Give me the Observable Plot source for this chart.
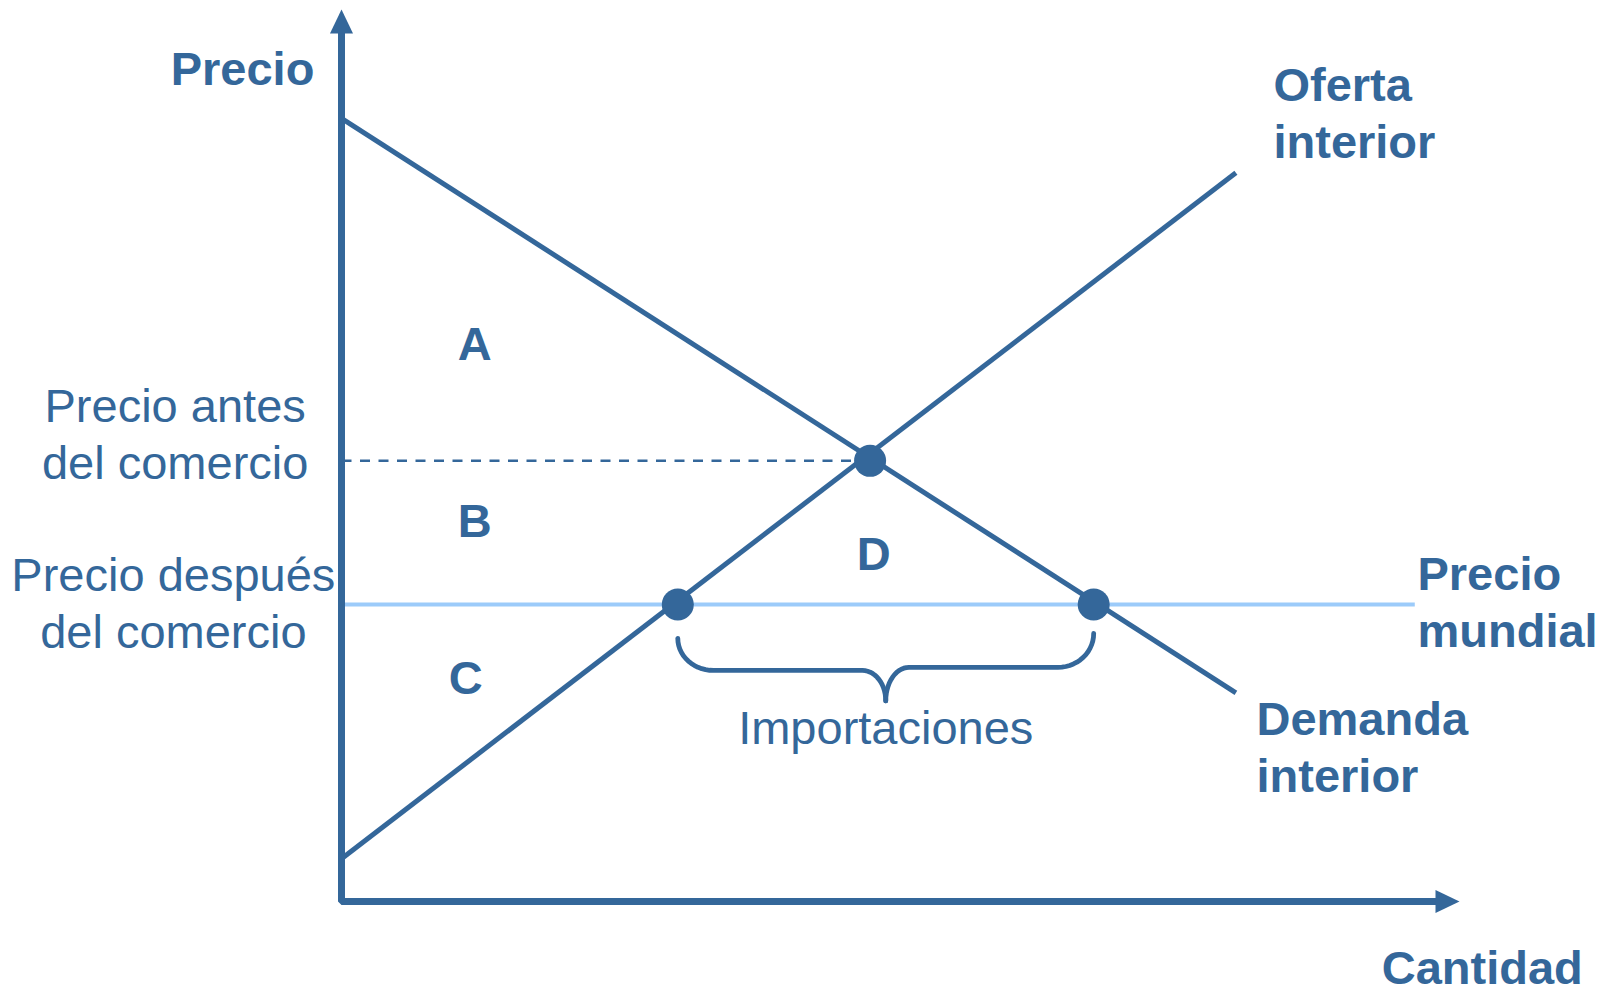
<!DOCTYPE html>
<html><head><meta charset="utf-8">
<script src="https://cdn.jsdelivr.net/npm/d3@7"></script>
<script src="https://cdn.jsdelivr.net/npm/@observablehq/plot@0.6"></script>
<style>body{margin:0;background:#fff} svg{display:block}</style>
</head><body><div id="chart"></div>
<script>
// ---- data (quantity Q, price P in arbitrary chart units) ----
const demandQ = [0, 100];
const demandP = [87.8, 23.4];
const supplyQ = [0, 100];
const supplyP = [4.8, 81.7];
const worldPrice = 33.3;
const worldQ = [0, 120];
const pointNames = ["Equilibrio sin comercio", "Producción interior", "Consumo interior"];
const pointQ = [59.1, 37.6, 84.1];
const pointP = [49.4, 33.3, 33.3];
const axisQMax = 125;
const axisPMax = 100;
const regionLabels = ["A", "B", "C", "D"];
const regionQ = [14.9, 14.9, 13.9, 59.5];
const regionP = [60.7, 40.9, 23.3, 37.2];

const DARK = "#34679a";
const LIGHT = "#9ccbfa";
const FONT = "Liberation Sans, Arial, Helvetica, sans-serif";

const demand = demandQ.map((q, i) => ({q, p: demandP[i]}));
const supply = supplyQ.map((q, i) => ({q, p: supplyP[i]}));
const world = worldQ.map(q => ({q, p: worldPrice}));
const points = pointNames.map((name, i) => ({name, q: pointQ[i], p: pointP[i]}));
const regions = regionLabels.map((t, i) => ({t, q: regionQ[i], p: regionP[i]}));

// ---- brace under the imports interval (geometry of the annotation) ----
const q1 = pointQ[1], q2 = pointQ[2], qm = (q1 + q2) / 2;
const yTipB = worldPrice - 10.8;
function arcPts(s, cq, cp, rq, rp, a0, a1) {
  const n = 14, out = [];
  for (let k = 0; k <= n; k++) {
    const a = (a0 + (a1 - a0) * k / n) * Math.PI / 180;
    out.push({s, q: cq + rq * Math.cos(a), p: cp + rp * Math.sin(a)});
  }
  return out;
}
function braceHalf(s, qEnd, dir, yTop, yFlat) {
  const r1q = 4.0, r1p = yTop - yFlat, r2q = 2.6, r2p = yFlat - yTipB;
  const first = dir > 0
    ? arcPts(s, qEnd + r1q, yTop, r1q, r1p, 180, 270)
    : arcPts(s, qEnd - r1q, yTop, r1q, r1p, 0, -90);
  const second = dir > 0
    ? arcPts(s, qm - r2q, yFlat - r2p, r2q, r2p, 90, 0)
    : arcPts(s, qm + r2q, yFlat - r2p, r2q, r2p, 90, 180);
  return [...first, ...second];
}
const brace = [
  ...braceHalf("L", q1, 1, worldPrice - 3.8, worldPrice - 7.4),
  ...braceHalf("R", q2, -1, worldPrice - 3.25, worldPrice - 7.05)
];

// filled arrow head whose apex is at the origin, pointing up
const arrowHead = {
  draw(ctx, size) {
    const h = Math.sqrt(size);
    ctx.moveTo(0, 0);
    ctx.lineTo(-h * 0.48, h);
    ctx.lineTo(h * 0.48, h);
    ctx.closePath();
  }
};

const boldText = (data, opts) => Plot.text(data, {
  x: "q", y: "p", text: "t", fill: DARK, fontSize: 47, fontWeight: "bold",
  fontFamily: FONT, lineAnchor: "bottom", lineHeight: 1.213, ...opts
});
const normalText = (data, opts) => Plot.text(data, {
  x: "q", y: "p", text: "t", fill: DARK, fontSize: 47, fontWeight: "normal",
  fontFamily: FONT, lineAnchor: "bottom", lineHeight: 1.213, ...opts
});

const chart = Plot.plot({
  width: 1605,
  height: 994,
  margin: 0,
  x: {domain: [0, axisQMax], range: [341, 1459], axis: null},
  y: {domain: [0, axisPMax], range: [901, 9], axis: null},
  style: {fontFamily: FONT, overflow: "visible", background: "white"},
  marks: [
    Plot.line(world, {x: "q", y: "p", stroke: LIGHT, strokeWidth: 4, strokeLinecap: "butt"}),
    Plot.line([{q: 0, p: pointP[0]}, {q: pointQ[0], p: pointP[0]}],
      {x: "q", y: "p", stroke: DARK, strokeWidth: 2.5, strokeDasharray: "10,8.5", strokeLinecap: "butt"}),
    Plot.line(demand, {x: "q", y: "p", stroke: DARK, strokeWidth: 5, strokeLinecap: "butt"}),
    Plot.line(supply, {x: "q", y: "p", stroke: DARK, strokeWidth: 5, strokeLinecap: "butt"}),
    Plot.line([{q: 0, p: axisPMax - 2}, {q: 0, p: 0}, {q: axisQMax - 2, p: 0}],
      {x: "q", y: "p", stroke: DARK, strokeWidth: 7, strokeLinejoin: "miter", strokeLinecap: "butt"}),
    Plot.dot([{q: 0, p: axisPMax, rot: 0}, {q: axisQMax, p: 0, rot: 90}],
      {x: "q", y: "p", rotate: "rot", symbol: arrowHead, r: 24 / Math.sqrt(Math.PI), fill: DARK, stroke: null}),
    Plot.dot(points, {x: "q", y: "p", r: 16, fill: DARK, stroke: null}),
    Plot.line(brace, {x: "q", y: "p", z: "s", stroke: DARK, strokeWidth: 4.8, strokeLinecap: "round", strokeLinejoin: "round"}),
    boldText(regions, {textAnchor: "middle"}),
    boldText([{t: "Precio", q: -19.1, p: 91.5}], {textAnchor: "start"}),
    boldText([{t: "Oferta\ninterior", q: 104.2, p: 83.4}], {textAnchor: "start"}),
    boldText([{t: "Precio\nmundial", q: 120.3, p: 28.5}], {textAnchor: "start"}),
    boldText([{t: "Demanda\ninterior", q: 102.3, p: 12.3}], {textAnchor: "start"}),
    boldText([{t: "Cantidad", q: 116.3, p: -9.2}], {textAnchor: "start"}),
    normalText([{t: "Precio antes\ndel comercio", q: -18.6, p: 47.4}], {textAnchor: "middle"}),
    normalText([{t: "Precio después\ndel comercio", q: -18.8, p: 28.4}], {textAnchor: "middle"}),
    normalText([{t: "Importaciones", q: qm, p: 17.7}], {textAnchor: "middle"})
  ]
});
document.getElementById("chart").appendChild(chart);
</script>
</body></html>
